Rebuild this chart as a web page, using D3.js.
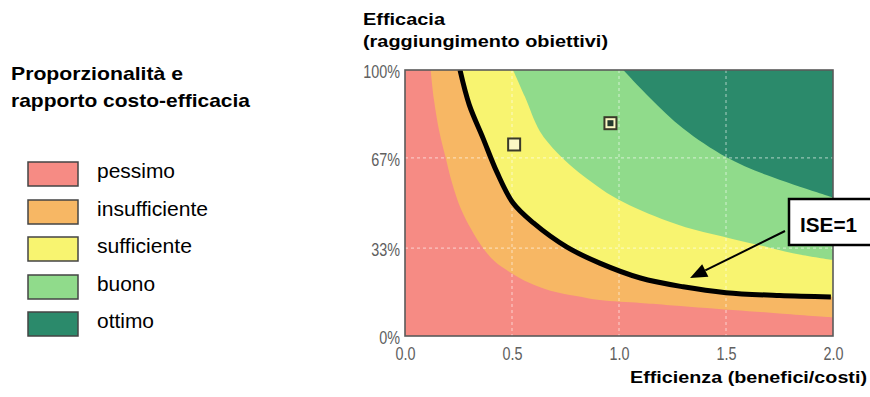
<!DOCTYPE html>
<html>
<head>
<meta charset="utf-8">
<script src="https://cdn.jsdelivr.net/npm/d3@7"></script>
<style>
  html, body { margin: 0; padding: 0; background: #ffffff; }
  svg { display: block; font-family: "Liberation Sans", Arial, sans-serif; }
</style>
</head>
<body>
<svg id="chart" width="870" height="397"></svg>
<script>
// ---------------- data ----------------
const categories = ["pessimo", "insufficiente", "sufficiente", "buono", "ottimo"];
const categoryColors = ["#f68b84", "#f7b764", "#f8f470", "#90db8b", "#2b8a6b"];

const xTickValues = [0.0, 0.5, 1.0, 1.5, 2.0];
const xTickLabels = ["0.0", "0.5", "1.0", "1.5", "2.0"];
const yTickValues = [0, 0.33, 0.67, 1.0];
const yTickLabels = ["0%", "33%", "67%", "100%"];
const xGridValues = [0.5, 1.0, 1.5];
const yGridValues = [0.33, 0.67];

// boundaries [efficienza, efficacia]
const boundPessimoInsuff = [[0.12,1.0],[0.135,0.89],[0.16,0.77],[0.19,0.67],[0.22,0.575],[0.26,0.48],[0.31,0.40],[0.365,0.33],[0.42,0.28],[0.49,0.24],[0.58,0.20],[0.68,0.17],[0.80,0.15],[0.91,0.135],[1.10,0.124],[1.22,0.117],[1.53,0.098],[1.75,0.085],[2.0,0.07]];
const boundInsuffSuff = [[0.257,1.0],[0.30,0.87],[0.364,0.745],[0.43,0.615],[0.505,0.50],[0.60,0.425],[0.755,0.335],[0.91,0.274],[1.10,0.218],[1.30,0.185],[1.50,0.163],[1.75,0.152],[2.0,0.147]];
const boundSuffBuono = [[0.505,1.0],[0.56,0.90],[0.63,0.77],[0.71,0.69],[0.79,0.63],[0.87,0.58],[0.97,0.525],[1.08,0.48],[1.20,0.44],[1.35,0.40],[1.53,0.365],[1.70,0.333],[1.85,0.305],[2.0,0.285]];
const boundBuonoOttimo = [[1.02,1.0],[1.145,0.895],[1.30,0.78],[1.50,0.673],[1.69,0.605],[1.925,0.54],[2.0,0.52]];
const iseLine = [[0.257,1.0],[0.30,0.87],[0.364,0.745],[0.43,0.615],[0.505,0.50],[0.60,0.425],[0.755,0.335],[0.91,0.274],[1.10,0.218],[1.30,0.185],[1.50,0.163],[1.75,0.152],[1.99,0.147]];

const pointsEfficienza = [0.51, 0.96];
const pointsEfficacia = [0.72, 0.80];
const pointsFilled = [false, true];

// ---------------- drawing ----------------
const svg = d3.select("#chart");
const x = d3.scaleLinear().domain([0, 2]).range([405, 833]);
const y = d3.scaleLinear().domain([0, 1]).range([336, 70]);

svg.append("defs").append("clipPath").attr("id", "plotClip")
  .append("rect").attr("x", x(0)).attr("y", y(1)).attr("width", x(2) - x(0)).attr("height", y(0) - y(1));

const plot = svg.append("g").attr("clip-path", "url(#plotClip)");

// base: pessimo
plot.append("rect").attr("x", x(0)).attr("y", y(1)).attr("width", x(2) - x(0)).attr("height", y(0) - y(1))
  .attr("fill", categoryColors[0]);

const curveLine = d3.line().x(d => x(d[0])).y(d => y(d[1])).curve(d3.curveCatmullRom.alpha(0.5));
const bounds = [boundPessimoInsuff, boundInsuffSuff, boundSuffBuono, boundBuonoOttimo];
bounds.forEach((b, i) => {
  const p = curveLine(b) + `L${x(2) + 5},${y(b[b.length - 1][1])}L${x(2) + 5},${y(1) - 5}L${x(b[0][0])},${y(1) - 5}Z`;
  plot.append("path").attr("d", p).attr("fill", categoryColors[i + 1]);
});

// dashed grid
plot.selectAll("line.vg").data(xGridValues).enter().append("line")
  .attr("x1", d => x(d)).attr("x2", d => x(d)).attr("y1", y(1)).attr("y2", y(0))
  .attr("stroke", "#ffffff").attr("stroke-opacity", 0.5).attr("stroke-width", 1.2).attr("stroke-dasharray", "3,3");
plot.selectAll("line.hg").data(yGridValues).enter().append("line")
  .attr("x1", x(0)).attr("x2", x(2)).attr("y1", d => y(d)).attr("y2", d => y(d))
  .attr("stroke", "#ffffff").attr("stroke-opacity", 0.5).attr("stroke-width", 1.2).attr("stroke-dasharray", "3,3");

// ISE = 1 line
plot.append("path").attr("d", curveLine(iseLine)).attr("fill", "none")
  .attr("stroke", "#000").attr("stroke-width", 5).attr("stroke-linecap", "butt");

// points
pointsEfficienza.forEach((r, i) => {
  const cx = x(r), cy = y(pointsEfficacia[i]);
  svg.append("rect").attr("x", cx - 6).attr("y", cy - 6).attr("width", 12).attr("height", 12)
    .attr("fill", "#fbf8c4").attr("stroke", "#3a3a2a").attr("stroke-width", 2);
  if (pointsFilled[i]) {
    svg.append("rect").attr("x", cx - 3).attr("y", cy - 3).attr("width", 6).attr("height", 6)
      .attr("fill", "#233a2e");
  }
});

// frame
svg.append("rect").attr("x", x(0)).attr("y", y(1)).attr("width", x(2) - x(0)).attr("height", y(0) - y(1))
  .attr("fill", "none").attr("stroke", "#5a5a5a").attr("stroke-width", 1.6);

// axes
const xAxis = svg.append("g").attr("transform", `translate(0,${y(0)})`)
  .call(d3.axisBottom(x).tickValues(xTickValues).tickSize(0).tickFormat((d, i) => xTickLabels[i]));
xAxis.select(".domain").remove();
xAxis.selectAll("text").attr("y", 0).attr("dy", null).attr("x", 0)
  .attr("transform", "translate(0,24) scale(0.8,1)")
  .attr("font-size", 18).attr("fill", "#606060").attr("font-family", "'Liberation Sans', Arial, sans-serif");

const yAxis = svg.append("g").attr("transform", `translate(${x(0)},0)`)
  .call(d3.axisLeft(y).tickValues(yTickValues).tickSize(0).tickFormat((d, i) => yTickLabels[i]));
yAxis.select(".domain").remove();
yAxis.selectAll("text").attr("x", 0).attr("y", 0).attr("dy", null)
  .attr("transform", "translate(-5,7.5) scale(0.8,1)")
  .attr("font-size", 18).attr("fill", "#606060").attr("font-family", "'Liberation Sans', Arial, sans-serif");

// titles
function boldText(txt, tx, ty, size, len) {
  svg.append("text").attr("x", tx).attr("y", ty).attr("font-size", size).attr("font-weight", "bold")
    .attr("fill", "#000").attr("textLength", len).attr("lengthAdjust", "spacingAndGlyphs").text(txt);
}
boldText("Efficacia", 363, 25, 17, 82);
boldText("(raggiungimento obiettivi)", 363, 47, 17, 245);
boldText("Efficienza (benefici/costi)", 630, 383, 17, 237);
boldText("Proporzionalità e", 11, 80, 18.5, 172);
boldText("rapporto costo-efficacia", 11, 107, 18.5, 239);

// legend
const legendTop = [162, 200, 237, 275, 312];
const legendLen = [78, 111, 95, 58, 57];
categories.forEach((c, i) => {
  svg.append("rect").attr("x", 28).attr("y", legendTop[i]).attr("width", 50).attr("height", 24)
    .attr("fill", categoryColors[i]).attr("stroke", "#444").attr("stroke-width", 1.5);
  svg.append("text").attr("x", 97).attr("y", legendTop[i] + 16).attr("font-size", 19.5)
    .attr("fill", "#000").attr("textLength", legendLen[i]).attr("lengthAdjust", "spacingAndGlyphs").text(c);
});

// annotation ISE=1
svg.append("rect").attr("x", 789).attr("y", 199).attr("width", 100).attr("height", 46)
  .attr("fill", "#fff").attr("stroke", "#000").attr("stroke-width", 2.5);
boldText("ISE=1", 800, 232, 20, 57);

const tip = [x(1.332), y(0.218)];
const start = [785, 231];
const dx = tip[0] - start[0], dy = tip[1] - start[1];
const L = Math.hypot(dx, dy), ux = dx / L, uy = dy / L;
const headLen = 17, headW = 7;
const base = [tip[0] - headLen * ux, tip[1] - headLen * uy];
svg.append("line").attr("x1", start[0]).attr("y1", start[1]).attr("x2", base[0]).attr("y2", base[1])
  .attr("stroke", "#000").attr("stroke-width", 2);
svg.append("path")
  .attr("d", `M${tip[0]},${tip[1]}L${base[0] - headW * uy},${base[1] + headW * ux}L${base[0] + headW * uy},${base[1] - headW * ux}Z`)
  .attr("fill", "#000");
</script>
</body>
</html>
